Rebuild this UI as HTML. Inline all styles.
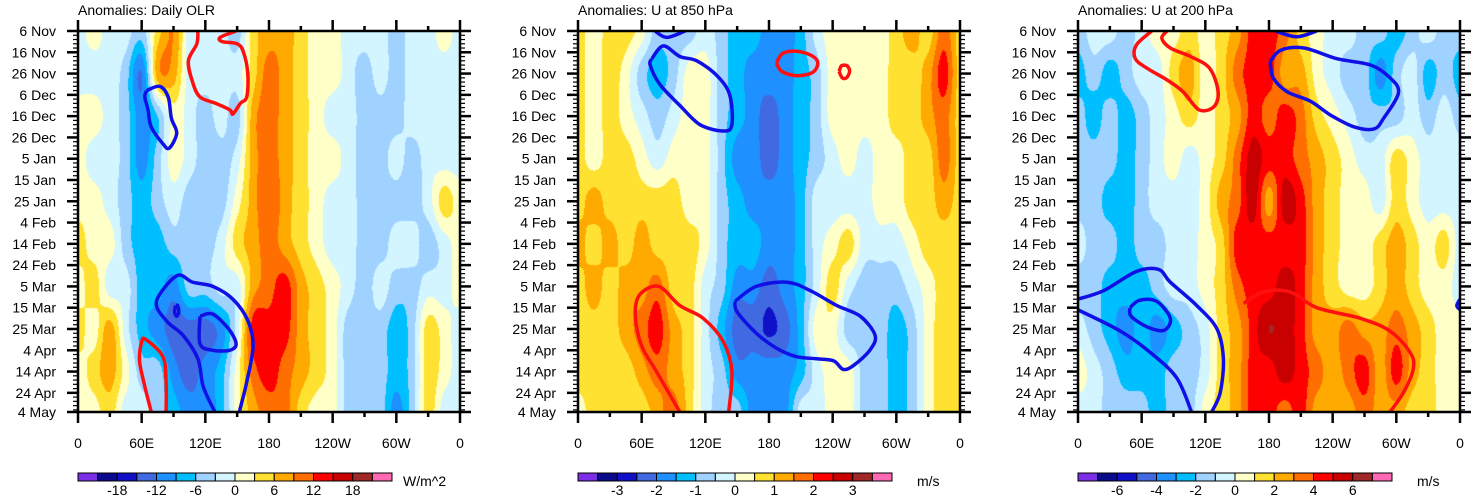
<!DOCTYPE html>
<html><head><meta charset="utf-8">
<style>
html,body{margin:0;padding:0;background:#fff;}
#wrap{position:relative;width:1473px;height:497px;overflow:hidden;font-family:"Liberation Sans",Arial,sans-serif;}
canvas{position:absolute;}
svg{position:absolute;left:0;top:0;}
</style></head>
<body>
<div id="wrap">
<canvas id="c0" width="382" height="381" style="left:78px;top:31px"></canvas>
<canvas id="c1" width="382" height="381" style="left:578px;top:31px"></canvas>
<canvas id="c2" width="382" height="381" style="left:1078px;top:31px"></canvas>
<svg id="s" width="1473" height="497"></svg>
</div>
<script>
const lons=[0,15,30,45,60,75,90,105,120,135,150,165,180,195,210,225,240,255,270,285,300,315,330,345,360];
const days=[0,20,40,60,80,100,120,140,160,179];
const colors=['#7b2ee6','#0a0a8c','#1010c8','#4169e1','#1e90ff','#00bfff','#a0d2ff','#d2f5ff','#ffffc8','#ffe132','#ffaa00','#ff6e00','#ff0000','#c80000','#a02828','#ff69b4'];
const yTickLabels=['6 Nov','16 Nov','26 Nov','6 Dec','16 Dec','26 Dec','5 Jan','15 Jan','25 Jan','4 Feb','14 Feb','24 Feb','5 Mar','15 Mar','25 Mar','4 Apr','14 Apr','24 Apr','4 May'];
const yTickDays=[0,10,20,30,40,50,60,70,80,90,100,110,120,130,140,150,160,170,179];
const xTickLabels=['0','60E','120E','180','120W','60W','0'];
const xTickLons=[0,60,120,180,240,300,360];
const titles=['Anomalies: Daily OLR','Anomalies: U at 850 hPa','Anomalies: U at 200 hPa'];
const units=['W/m^2','m/s','m/s'];
const levStart=[-21,-3.5,-7];
const levStep=[3,0.5,1];
const cbLabels=[['-18','-12','-6','0','6','12','18'],['-3','-2','-1','0','1','2','3'],['-6','-4','-2','0','2','4','6']];

const olr=[
[-1.5,1.5,-1.5,-1.5,-4.5,4.5,9,-1.5,-1.5,-1.5,-4.5,4.5,7.5,7.5,4.5,1.5,1.5,-1.5,-1.5,-1.5,-4.5,-1.5,-1.5,1.5,-1.5],
[-1.5,-1.5,-1.5,-4.5,-12,7.5,7.5,-1.5,-1.5,-1.5,-1.5,4.5,10.5,7.5,4.5,1.5,1.5,-1.5,-4.5,-1.5,-4.5,-1.5,-1.5,-1.5,-1.5],
[1.5,1.5,-1.5,-4.5,-10.5,-6,1.5,-1.5,-4.5,-1.5,-4.5,7.5,10.5,7.5,4.5,1.5,-1.5,-1.5,-4.5,-4.5,-4.5,-1.5,-1.5,-1.5,-1.5],
[1.5,-1.5,-1.5,-4.5,-10.5,-4.5,1.5,-1.5,-4.5,-4.5,-1.5,7.5,10.5,7.5,4.5,1.5,1.5,-1.5,-4.5,-4.5,-1.5,-4.5,-1.5,-1.5,-1.5],
[1.5,1.5,-1.5,-4.5,-7.5,-4.5,-1.5,-4.5,-4.5,-4.5,1.5,7.5,12,7.5,4.5,1.5,-1.5,-1.5,-4.5,-4.5,-4.5,-4.5,-1.5,4.5,1.5],
[4.5,1.5,1.5,-4.5,-7.5,-7.5,-4.5,-4.5,-4.5,-1.5,4.5,7.5,10.5,7.5,4.5,1.5,-1.5,-1.5,-4.5,-4.5,-1.5,-1.5,-4.5,-1.5,1.5],
[1.5,4.5,-1.5,-1.5,-7.5,-7.5,-10.5,-4.5,-4.5,-1.5,-1.5,7.5,10.5,13.5,7.5,4.5,1.5,-1.5,-4.5,-1.5,-4.5,-4.5,-1.5,-1.5,1.5],
[4.5,1.5,7.5,-1.5,-7.5,-10.5,-13.5,-13.5,-13.5,-10.5,-1.5,13.5,13.5,13.5,7.5,4.5,1.5,-4.5,-4.5,-4.5,-7.5,-4.5,4.5,1.5,-1.5],
[1.5,4.5,7.5,1.5,-4.5,-4.5,-10.5,-13.5,-10.5,-7.5,1.5,10.5,13.5,10.5,7.5,4.5,1.5,-4.5,-4.5,-4.5,-7.5,-4.5,4.5,1.5,-1.5],
[1.5,1.5,4.5,-1.5,-1.5,-4.5,-7.5,-10.5,-10.5,-7.5,1.5,7.5,10.5,10.5,4.5,1.5,1.5,-4.5,-4.5,-4.5,-10.5,-4.5,4.5,-1.5,-1.5]];
const u850=[
[.75,.25,.75,.75,.25,-.75,-.75,-.75,-.25,-.75,-1.25,-1.25,-1.75,-1.75,-1.25,-.25,.25,.25,.25,.25,.75,1.25,.75,1.75,.75],
[.75,.25,.75,.25,-.75,-1.25,-.75,.25,.25,-.75,-1.25,-1.75,-1.75,-1.75,-1.25,-.75,.25,.25,.25,.25,.75,.75,1.25,2.25,.75],
[.75,.25,.75,.25,-.25,-.75,-.25,.25,.25,-.75,-1.25,-1.75,-2.25,-1.75,-1.25,-.75,.25,.25,.25,.25,.75,.75,1.25,1.75,.75],
[.75,.25,.75,.75,.25,-.25,.25,.25,.25,-.75,-1.75,-1.75,-2.25,-1.75,-1.25,-.75,-.25,.25,-.25,.25,.25,.75,.75,1.75,.75],
[.75,1.25,.75,.75,.75,.75,.75,.25,.25,-.75,-1.25,-1.75,-1.75,-1.75,-1.25,-.25,-.25,-.25,-.25,.25,.25,.75,.75,1.25,.75],
[1.25,.75,1.25,.75,1.25,.75,.75,.75,.25,-.75,-1.25,-1.25,-1.75,-1.75,-1.25,-.25,.25,.75,-.25,-.25,-.25,.25,.75,.75,.75],
[.75,1.25,.75,1.25,1.25,1.75,.75,.75,-.25,-.75,-1.75,-1.75,-2.25,-1.75,-1.25,-.25,.75,-.25,-.75,-.75,-.75,-.25,.25,.75,.75],
[.75,.75,.75,1.25,1.75,2.25,1.25,.75,-.25,-1.25,-2.25,-2.25,-2.6,-2.25,-1.25,.25,.25,-.75,-.75,-.75,-1.25,-.75,.25,.75,.75],
[.75,.75,.75,.75,1.25,1.75,1.25,.75,-.25,-.75,-1.75,-1.75,-1.75,-1.75,-1.25,-.25,.25,.25,-.75,-.75,-1.25,-.75,.25,.75,.75],
[.25,.75,.75,.75,.75,1.25,1.75,.75,-.25,-.75,-.75,-1.75,-1.75,-1.75,-.25,-.25,.25,.25,-.75,-.75,-1.25,-.75,.25,.75,.75]];
const u200=[
[-1.5,-.5,-.5,-1.5,-.5,.5,.5,1.5,.5,1.5,2.5,4.5,4.5,3.5,1.5,.5,-.5,-.5,-1.5,-1.5,-2.5,-1.5,-.5,-1.5,-1.5],
[-2.5,-1.5,-2.5,-1.5,-.5,-.5,1.5,2.5,.5,1.5,3.5,4.5,4.5,2.5,2.5,.5,-.5,-1.5,-1.5,-3.5,-1.5,-.5,-2.5,-1.5,-2.5],
[-1.5,-2.5,-1.5,-2.5,-1.5,-.5,.5,1.5,.5,1.5,2.5,4.5,3.5,4.5,3.5,1.5,.5,-.5,-1.5,-1.5,-1.5,-.5,-1.5,-.5,-1.5],
[-1.5,-1.5,-1.5,-2.5,-1.5,-.5,.5,-.5,.5,1.5,3.5,5.5,4.5,4.5,3.5,2.5,1.5,.5,-.5,-.5,1.5,.5,-.5,-.5,-.5],
[-1.5,-1.5,-2.5,-2.5,-1.5,-.5,-.5,-.5,.5,2.5,3.5,5.5,2.5,5.5,4.5,2.5,1.5,.5,.5,-.5,1.5,.5,-.5,-.5,-.5],
[-.5,-1.5,-1.5,-2.5,-1.5,-1.5,-.5,-.5,.5,1.5,4.5,4.5,4.5,4.5,4.5,2.5,1.5,.5,.5,1.5,2.5,1.5,.5,1.5,-.5],
[-1.5,-1.5,-2.5,-2.5,-2.5,-1.5,-.5,-.5,.5,1.5,3.5,4.5,4.5,5.5,4.5,2.5,1.5,.5,.5,1.5,2.5,1.5,.5,.5,-.5],
[-.5,-1.5,-2.5,-3.5,-2.5,-3.5,-2.5,-1.5,-.5,1.5,2.5,4.5,6,5.5,4.5,2.5,2.5,3.5,2.5,2.5,3.5,2.5,1.5,.5,.5],
[.5,-.5,-1.5,-2.5,-2.5,-2.5,-1.5,-1.5,-.5,1.5,2.5,4.5,4.5,5.5,4.5,3.5,2.5,3.5,4.5,2.5,4.5,2.5,1.5,.5,.5],
[-.5,-.5,-1.5,-1.5,-1.5,-2.5,-1.5,-1.5,.5,1.5,2.5,4.5,4.5,3.5,4.5,2.5,2.5,2.5,3.5,2.5,2.5,1.5,1.5,.5,.5]];

const olrRed1=[[113,0],[112,6],[104,14],[108,24],[115,31],[130,34],[143,37],[146,39],[153,34],[159,31],[160,20],[156,10],[150,6],[136,5],[134,3],[149,0]];
const olrRed2=[[69,179],[63,167],[58,155],[60,146],[64,145],[80,153],[83,165],[83,179]];
const olrBlue1=[[64.6,28],[77,26],[85,31],[88,41],[93,48],[86,55],[80,53],[69,45],[66,37],[63,31],[64.6,28]];
const olrBlue2=[[129,179],[118,167],[113,154],[99,143],[83,136],[74,127],[93,115],[108,118],[127,120],[146,126],[160,136],[165,148],[159,165],[152,179]];
const olrBlue3=[[115,134],[127,133],[142,140],[149,147],[143,150],[127,150],[115,147],[115,134]];
const olrBlue4=[[92,129],[94,129],[95,132],[93,134],[91,132],[92,129]];
const u850Blue1=[[72.6,0],[83.6,3],[101,0]];
const u850Blue2=[[69.5,13],[80.5,7],[96,12],[112,14],[131,21],[143,30],[145,44],[137,47],[115,44],[96,35],[77,25],[68,16],[69.5,13]];
const u850Blue3=[[148,127],[168,120],[197,118],[219,122],[244,129],[266,134],[280,143],[275,150],[260,157],[250,159],[241,155],[225,154],[206,153],[187,149],[168,142],[150,132],[148,127]];
const u850Red1=[[96,179],[74,160],[60,148],[54,134],[58,124],[76,120],[96,129],[118,135],[137,146],[145,160],[142,179]];
const u850Red2=[[187,15],[193,10.5],[206,9.5],[220,11.5],[226,15],[221,19.5],[206,21],[192,19],[187,15]];
const u850Red3=[[246,19],[248,16.5],[251,16],[254,16.5],[256,19],[253,22],[249,22],[246,19]];
const u200Red1=[[69.5,0],[55,6.6],[54,13],[65,17.5],[84,23],[99,28.5],[114,37],[128,35.6],[132,28.5],[124,17.5],[106,12],[87,8],[79,3.4],[84,0]];
const u200Red2=[[156,128],[175,122.6],[200,122.6],[225,130],[266,135],[294,141],[313,151],[316,158.6],[307,169.6],[294,179]];
const u200Blue1=[[186,0],[206,2.7],[225,0]];
const u200Blue2=[[181,14.4],[191,9],[213,8],[244,13],[276,16],[294,22],[302,29],[288,41],[279,46],[260,45],[238,39.5],[219,33],[197,28.5],[184,22],[181,14.4]];
const u200Blue3=[[0,126],[24,122],[55,113],[76,112],[87,118],[112,129],[131,140],[137,154],[134,170],[126,179]];
const u200Blue4=[[0,131],[40,141],[68,151],[93,163],[107,179]];
const u200Blue5=[[49,130],[58,126.5],[74,127],[87,135],[81,140.6],[65,139],[50,134],[49,130]];
const u200Blue6=[[360,126],[357,129],[360,131]];

const panels=[
 {left:78,grid:olr,red:[olrRed1,olrRed2],blue:[olrBlue1,olrBlue2,olrBlue3,olrBlue4]},
 {left:578,grid:u850,red:[u850Red1,u850Red2,u850Red3],blue:[u850Blue1,u850Blue2,u850Blue3]},
 {left:1078,grid:u200,red:[u200Red1,u200Red2],blue:[u200Blue1,u200Blue2,u200Blue3,u200Blue4,u200Blue5,u200Blue6]}];
const TOP=31,W=382,H=381;
const NS='http://www.w3.org/2000/svg';
const svg=document.getElementById('s');
function mk(tag,attrs,parent){const e=document.createElementNS(NS,tag);for(const k in attrs)e.setAttribute(k,attrs[k]);(parent||svg).appendChild(e);return e;}
function colorIdx(v,p){let n=0;for(let k=0;k<15;k++){if(v>levStart[p]+k*levStep[p])n++;}return n;}
function hex(c){return [parseInt(c.slice(1,3),16),parseInt(c.slice(3,5),16),parseInt(c.slice(5,7),16)];}
function cr(p0,p1,p2,p3,t){return 0.5*((2*p1)+(-p0+p2)*t+(2*p0-5*p1+4*p2-p3)*t*t+(-p0+3*p1-3*p2+p3)*t*t*t);}
function sample(g,lon,day){
 const ni=lons.length,nj=days.length;
 let i=Math.min(ni-2,Math.floor(lon/15));let fi=(lon-lons[i])/(lons[i+1]-lons[i]);
 let j=0;while(j<nj-2&&day>days[j+1])j++;let fj=(day-days[j])/(days[j+1]-days[j]);
 const col=(jj)=>{jj=Math.max(0,Math.min(nj-1,jj));const r=g[jj];
  const a=r[Math.max(0,i-1)],b=r[i],c=r[i+1],d=r[Math.min(ni-1,i+2)];return cr(a,b,c,d,fi);};
 return cr(col(j-1),col(j),col(j+1),col(j+2),fj);}
function pathFrom(pts,xs,ys){
 const P=pts.map(p=>[xs(p[0]),ys(p[1])]);let d='M'+P[0][0]+','+P[0][1];
 for(let k=0;k<P.length-1;k++){const p0=P[Math.max(0,k-1)],p1=P[k],p2=P[k+1],p3=P[Math.min(P.length-1,k+2)];
  const c1=[p1[0]+(p2[0]-p0[0])/6,p1[1]+(p2[1]-p0[1])/6],c2=[p2[0]-(p3[0]-p1[0])/6,p2[1]-(p3[1]-p1[1])/6];
  d+=' C'+c1[0].toFixed(1)+','+c1[1].toFixed(1)+' '+c2[0].toFixed(1)+','+c2[1].toFixed(1)+' '+p2[0].toFixed(1)+','+p2[1].toFixed(1);}
 return d;}
const rgb=colors.map(hex);
panels.forEach((pn,p)=>{
 const cv=document.getElementById('c'+p),ctx=cv.getContext('2d'),img=ctx.createImageData(W,H);
 for(let y=0;y<H;y++)for(let x=0;x<W;x++){
  const v=sample(pn.grid,(x+0.5)/W*360,(y+0.5)/H*179);const c=rgb[colorIdx(v,p)];const o=(y*W+x)*4;
  img.data[o]=c[0];img.data[o+1]=c[1];img.data[o+2]=c[2];img.data[o+3]=255;}
 ctx.putImageData(img,0,0);
 const L=pn.left;const xs=lon=>L+lon/360*W;const ys=d=>TOP+d/179*H;
 const cp=mk('clipPath',{id:'clip'+p});mk('rect',{x:L,y:TOP,width:W,height:H},cp);
 const g=mk('g',{'clip-path':'url(#clip'+p+')'});
 
 
 pn.red.forEach(c=>{const e=mk('path',{d:pathFrom(c,xs,ys),fill:'none',stroke:'#ff1010','stroke-width':3.5},g);
  
  });
 pn.blue.forEach(c=>{const e=mk('path',{d:pathFrom(c,xs,ys),fill:'none',stroke:'#1010e6','stroke-width':3.5},g);
  
  });
 mk('rect',{x:L,y:TOP,width:W,height:H,fill:'none',stroke:'#000','stroke-width':2.5});
 for(let d=0;d<=179;d+=2){const len=(d%10===0)?11:5;
  mk('line',{x1:L-len,x2:L,y1:ys(d),y2:ys(d),stroke:'#000','stroke-width':(d%10===0)?2.5:1.2});
  mk('line',{x1:L+W,x2:L+W+len,y1:ys(d),y2:ys(d),stroke:'#000','stroke-width':(d%10===0)?2.5:1.2});}
 mk('line',{x1:L-11,x2:L,y1:ys(179),y2:ys(179),stroke:'#000','stroke-width':2.5});
 mk('line',{x1:L+W,x2:L+W+11,y1:ys(179),y2:ys(179),stroke:'#000','stroke-width':2.5});
 for(let lo=0;lo<=360;lo+=30){const len=(lo%60===0)?11:5;
  mk('line',{x1:xs(lo),x2:xs(lo),y1:TOP+H,y2:TOP+H+len,stroke:'#000','stroke-width':2.5});
  mk('line',{x1:xs(lo),x2:xs(lo),y1:TOP-len,y2:TOP,stroke:'#000','stroke-width':2.5});}
 yTickLabels.forEach((t,k)=>{const e=mk('text',{x:L-22,y:ys(yTickDays[k])+5,'text-anchor':'end','font-size':14,fill:'#000'});e.textContent=t;
  
  });
 xTickLabels.forEach((t,k)=>{const e=mk('text',{x:xs(xTickLons[k]),y:448,'text-anchor':'middle','font-size':14,fill:'#000'});e.textContent=t;
  
  });
 const tt=mk('text',{x:L,y:15,'font-size':14,fill:'#000'});tt.textContent=titles[p];
 
 
 const bw=314/16;
 colors.forEach((c,k)=>{const r=mk('rect',{x:L+k*bw,y:473,width:bw,height:8,fill:c,stroke:'#000','stroke-width':1});
  
  });
 cbLabels[p].forEach((t,k)=>{const e=mk('text',{x:L+(2+2*k)*bw,y:495,'text-anchor':'middle','font-size':14,fill:'#000'});e.textContent=t;
  
  });
 const u=mk('text',{x:p===0?L+325:L+339,y:486,'font-size':14,fill:'#000'});u.textContent=units[p];
 
 
});
</script>
</body></html>
